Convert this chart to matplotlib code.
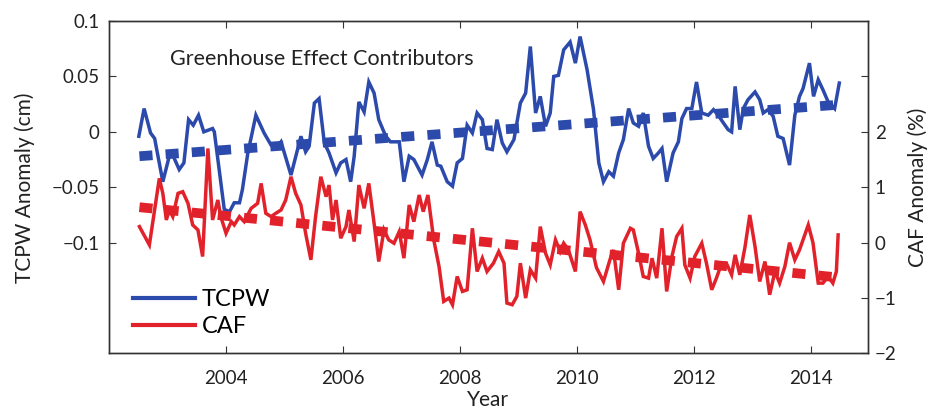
import numpy as np
import matplotlib
matplotlib.use("Agg")
import matplotlib.pyplot as plt
from matplotlib.lines import Line2D

plt.rcParams['font.family'] = ['Lato', 'DejaVu Sans']

# ---- Data ----
tcpw_years = [
    2002.51, 2002.60, 2002.71, 2002.78, 2002.92, 2003.03, 2003.09, 2003.20, 2003.28, 2003.36,
    2003.44, 2003.53, 2003.62, 2003.77, 2003.80, 2003.97, 2004.06, 2004.14, 2004.23, 2004.28,
    2004.37, 2004.51, 2004.65, 2004.77, 2004.88, 2004.94, 2005.11, 2005.28, 2005.36, 2005.42,
    2005.51, 2005.59, 2005.68, 2005.76, 2005.88, 2005.96, 2006.05, 2006.13, 2006.19, 2006.27,
    2006.36, 2006.44, 2006.53, 2006.61, 2006.73, 2006.81, 2006.96, 2007.04, 2007.13, 2007.21,
    2007.35, 2007.44, 2007.52, 2007.61, 2007.67, 2007.78, 2007.87, 2007.95, 2008.04, 2008.12,
    2008.21, 2008.29, 2008.38, 2008.46, 2008.55, 2008.63, 2008.72, 2008.80, 2008.92, 2009.03,
    2009.12, 2009.20, 2009.29, 2009.37, 2009.46, 2009.54, 2009.60, 2009.68, 2009.77, 2009.88,
    2009.97, 2010.05, 2010.17, 2010.28, 2010.37, 2010.45, 2010.54, 2010.62, 2010.71, 2010.79,
    2010.88, 2010.96, 2011.05, 2011.13, 2011.22, 2011.30, 2011.39, 2011.45, 2011.53, 2011.64,
    2011.73, 2011.79, 2011.87, 2011.96, 2012.04, 2012.13, 2012.24, 2012.33, 2012.41, 2012.50,
    2012.58, 2012.64, 2012.70, 2012.78, 2012.84, 2012.92, 2013.04, 2013.12, 2013.18, 2013.26,
    2013.35, 2013.43, 2013.52, 2013.63, 2013.72, 2013.80, 2013.86, 2013.97, 2014.04, 2014.12,
    2014.20, 2014.29, 2014.40, 2014.48,
]
tcpw = [
    -0.004, 0.021, -0.001, -0.006, -0.045, -0.022, -0.021, -0.034, -0.028, 0.011,
    0.006, 0.015, 0.000, 0.003, 0.000, -0.070, -0.072, -0.064, -0.064, -0.052,
    -0.020, 0.015, -0.001, -0.012, -0.013, -0.009, -0.039, -0.004, -0.018, -0.013,
    0.026, 0.030, -0.010, -0.019, -0.037, -0.028, -0.025, -0.045, -0.022, 0.027,
    0.018, 0.045, 0.035, 0.011, -0.004, -0.009, -0.009, -0.045, -0.022, -0.025,
    -0.039, -0.025, -0.009, -0.030, -0.031, -0.045, -0.049, -0.028, -0.024, 0.006,
    -0.001, 0.017, 0.011, -0.015, -0.016, 0.011, -0.010, -0.018, -0.007, 0.026,
    0.035, 0.077, 0.017, 0.032, 0.005, 0.017, 0.050, 0.051, 0.074, 0.081,
    0.062, 0.086, 0.056, 0.020, -0.028, -0.045, -0.036, -0.040, -0.019, -0.007,
    0.021, 0.008, 0.005, 0.017, -0.013, -0.024, -0.019, -0.015, -0.045, -0.019,
    -0.009, 0.012, 0.021, 0.021, 0.045, 0.017, 0.015, 0.020, 0.015, 0.008,
    0.002, 0.000, 0.041, 0.002, 0.021, 0.029, 0.036, 0.029, 0.017, 0.020,
    0.014, -0.004, -0.006, -0.030, 0.015, 0.032, 0.039, 0.062, 0.032, 0.047,
    0.038, 0.027, 0.021, 0.044,
]

caf_years = [
    2002.52, 2002.69, 2002.86, 2002.92, 2002.98, 2003.03, 2003.09, 2003.18, 2003.26, 2003.35,
    2003.43, 2003.52, 2003.60, 2003.69, 2003.77, 2003.86, 2003.91, 2004.00, 2004.09, 2004.14,
    2004.23, 2004.31, 2004.43, 2004.54, 2004.60, 2004.68, 2004.77, 2004.85, 2004.94, 2005.02,
    2005.11, 2005.19, 2005.28, 2005.36, 2005.45, 2005.53, 2005.62, 2005.71, 2005.76, 2005.82,
    2005.88, 2005.96, 2006.05, 2006.10, 2006.19, 2006.27, 2006.36, 2006.44, 2006.53, 2006.61,
    2006.70, 2006.78, 2006.87, 2006.96, 2007.04, 2007.13, 2007.21, 2007.30, 2007.37, 2007.45,
    2007.55, 2007.64, 2007.72, 2007.81, 2007.87, 2007.95, 2008.04, 2008.12, 2008.21, 2008.29,
    2008.38, 2008.46, 2008.57, 2008.66, 2008.75, 2008.80, 2008.89, 2008.97, 2009.03, 2009.12,
    2009.20, 2009.29, 2009.37, 2009.46, 2009.54, 2009.63, 2009.71, 2009.77, 2009.85, 2009.97,
    2010.05, 2010.14, 2010.22, 2010.33, 2010.45, 2010.56, 2010.62, 2010.71, 2010.79, 2010.91,
    2010.96, 2011.05, 2011.13, 2011.22, 2011.28, 2011.36, 2011.45, 2011.53, 2011.62, 2011.70,
    2011.79, 2011.84, 2011.93, 2012.01, 2012.13, 2012.21, 2012.30, 2012.38, 2012.47, 2012.55,
    2012.64, 2012.70, 2012.78, 2012.87, 2012.95, 2013.04, 2013.12, 2013.21, 2013.29, 2013.38,
    2013.46, 2013.55, 2013.63, 2013.72, 2013.80, 2013.95, 2014.03, 2014.12, 2014.20, 2014.29,
    2014.37, 2014.43, 2014.46,
]
caf = [
    0.29, -0.04, 1.16, 0.89, 0.41, 0.59, 0.47, 0.89, 0.92, 0.71,
    0.32, 0.23, -0.25, 1.70, 0.41, 0.77, 0.47, 0.17, 0.38, 0.32,
    0.47, 0.38, 0.62, 0.71, 1.07, 0.53, 0.47, 0.53, 0.59, 0.77,
    1.19, 0.89, 0.68, 0.17, -0.31, 0.47, 1.19, 0.83, 1.04, 0.41,
    0.77, 0.08, 0.29, 0.59, 0.02, 1.04, 0.62, 1.07, 0.35, -0.34,
    0.23, 0.05, -0.01, 0.20, -0.28, 0.68, 0.38, 0.86, 0.56, 0.86,
    0.05, -0.43, -1.06, -1.00, -1.12, -0.61, -0.88, -0.85, 0.26, -0.52,
    -0.28, -0.52, -0.37, -0.16, -0.37, -1.09, -1.12, -0.97, -0.37, -1.00,
    -0.49, -0.64, 0.29, -0.19, -0.40, 0.05, -0.16, -0.01, -0.13, -0.52,
    0.56, 0.32, 0.05, -0.45, -0.70, -0.31, -0.13, -0.85, -0.01, 0.26,
    0.23, -0.19, -0.61, -0.64, -0.28, -0.64, 0.26, -0.88, -0.25, 0.11,
    0.26, -0.40, -0.64, -0.25, -0.01, -0.37, -0.85, -0.64, -0.37, -0.37,
    -0.58, -0.22, -0.58, -0.07, 0.50, -0.07, -0.70, -0.34, -0.94, -0.52,
    -0.73, -0.43, 0.00, -0.31, -0.13, 0.32, 0.00, -0.73, -0.73, -0.61,
    -0.73, -0.52, 0.14,
]

# linear trends (end values)
trend_years = [2002.52, 2014.48]
tcpw_trend = [-0.022, 0.0245]
caf_trend = [0.64, -0.63]

BLUE = '#2b4aab'
RED = '#e2222b'
AXC = '#333333'
TXT = '#222222'

fig = plt.figure(figsize=(9.3, 4.12), dpi=100)
ax = fig.add_axes([0.1172, 0.142, 0.8161, 0.807])
ax2 = ax.twinx()

# ---- TCPW (left axis) ----
ax.plot(tcpw_years, tcpw, color=BLUE, lw=2.5, solid_joinstyle='miter')
ax.plot(trend_years, tcpw_trend, color=BLUE, lw=7, dashes=(1.35, 1.35))
ax.set_xlim(2002.0, 2014.97)
ax.set_ylim(-0.2, 0.1)
ax.set_yticks([-0.1, -0.05, 0, 0.05, 0.1])
ax.set_yticklabels(['\u22120.1', '\u22120.05', '0', '0.05', '0.1'])
ax.set_xticks(range(2004, 2015, 2))
ax.tick_params(axis='both', direction='in', length=5, width=0.8, colors=AXC,
               labelsize=13.5, labelcolor=TXT)
ax.tick_params(axis='x', top=True, pad=12)
ax.tick_params(axis='y', right=False, pad=7)
ax.set_xlabel('Year', fontsize=15, color=TXT, labelpad=2)
ax.set_ylabel('TCPW Anomaly (cm)', fontsize=15, color=TXT, labelpad=12)
ax.text(0.08, 0.885, 'Greenhouse Effect Contributors', transform=ax.transAxes,
        fontsize=15.5, color=TXT, va='center')

# ---- CAF (right axis) ----
ax2.plot(caf_years, caf, color=RED, lw=2.5, solid_joinstyle='miter')
ax2.plot(trend_years, caf_trend, color=RED, lw=7, dashes=(1.35, 1.35))
ax2.set_ylim(-2, 4)
ax2.set_yticks([-2, -1, 0, 1, 2, 3])
ax2.set_yticklabels(['\u22122', '\u22121', '0', '1', '2', ''])
ax2.tick_params(axis='y', direction='in', length=5, width=0.8, colors=AXC,
                labelsize=13.5, labelcolor=TXT, pad=5)
ax2.set_ylabel('CAF Anomaly (%)', fontsize=15, color=TXT, labelpad=8)

for a in (ax, ax2):
    for s in a.spines.values():
        s.set_color(AXC)
        s.set_linewidth(1.0)

handles = [Line2D([], [], color=BLUE, lw=3),
           Line2D([], [], color=RED, lw=3)]
ax2.legend(handles, ['TCPW', 'CAF'], loc='lower left', bbox_to_anchor=(0.032, 0.05),
           frameon=False, fontsize=17, handlelength=2.6, handletextpad=0.3,
           labelspacing=0.25, borderpad=0, borderaxespad=0)

fig.savefig('out.png', dpi=100)
